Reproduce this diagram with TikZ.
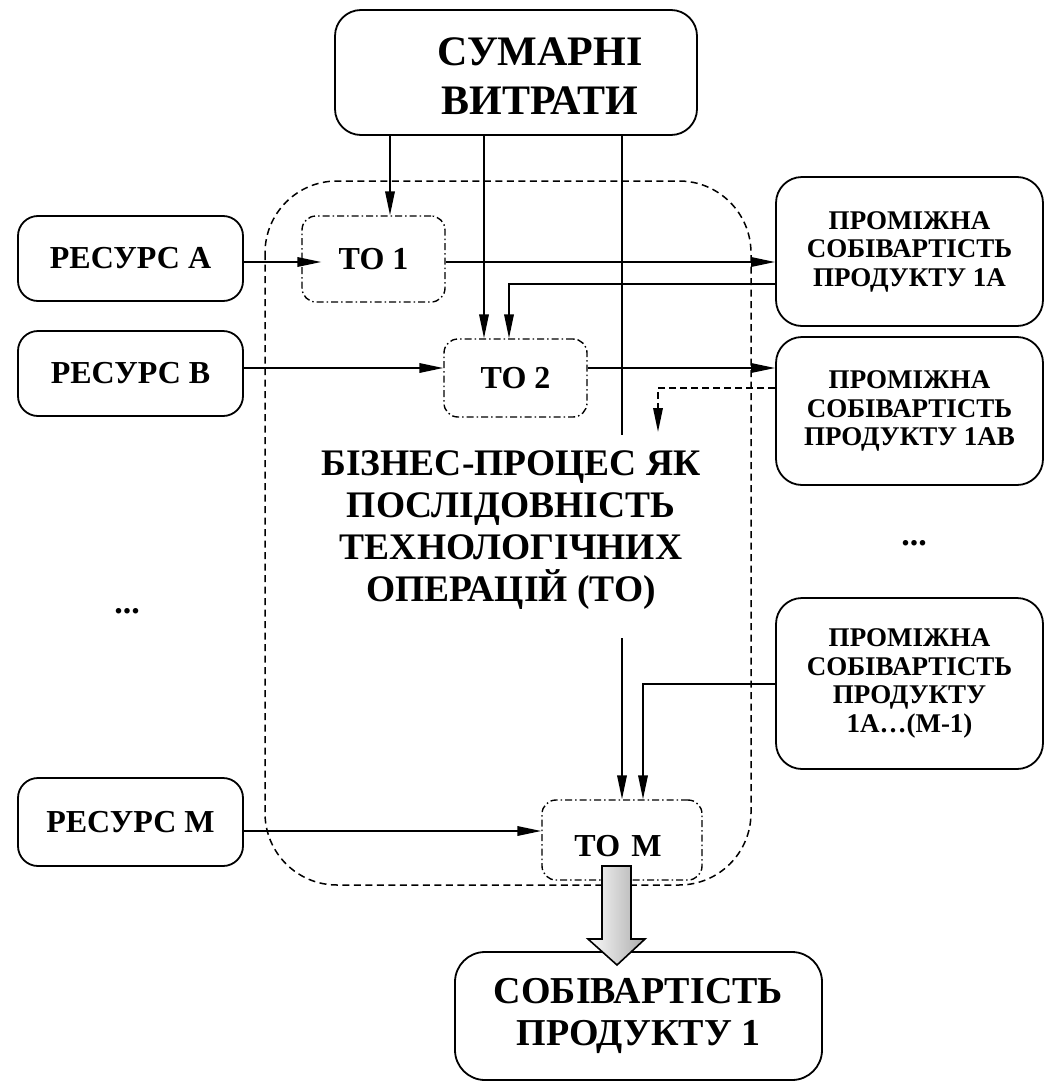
\documentclass[tikz,border=0pt]{standalone}
\usepackage{fontspec}
\setmainfont{Liberation Serif}
\usetikzlibrary{arrows.meta,calc}
\newcommand{\myfs}[2]{\fontsize{#1}{#2}\selectfont\bfseries}

\begin{document}
\begin{tikzpicture}[x=1pt,y=-1pt,
  box/.style={draw,line width=1.8pt,rounded corners=#1,inner sep=0pt,align=center},
  box/.default=22pt,
  opbox/.style={draw,line width=1.4pt,rounded corners=14pt,
    dash pattern=on 7pt off 3pt on 1.5pt off 3pt,inner sep=0pt,align=center,
    font=\myfs{32}{36}},
  resbox/.style={box=20pt,minimum width=225pt,minimum height=85pt,font=\myfs{32}{36}},
  interbox/.style={box=26pt,minimum width=267pt,font=\myfs{27}{28.5}},
  procframe/.style={line width=1.5pt,dash pattern=on 7pt off 4.5pt,rounded corners=72pt},
  link/.style={line width=1.8pt},
  arr/.style={link,-{Triangle[length=24pt,width=9.5pt]}},
  dasharr/.style={arr,dash pattern=on 7pt off 4pt},
  bigarrow/.style={draw,line width=1.6pt,left color=gray!3,right color=gray!65}
]
\useasboundingbox (0,0) rectangle (1045,1084);

% business process frame
\draw[procframe] (265,181) rectangle (751,885);

% nodes
\node[box=26pt,minimum width=362pt,minimum height=125pt] (sum) at (516,72.5) {};
\node[align=center,inner sep=0pt,font=\myfs{42}{49}] (sumtext)
  at ($(sum.center)+(24,4)$) {СУМАРНІ\\ВИТРАТИ};

\node[resbox] (ra) at (130.5,258.5) {РЕСУРС А};
\node[resbox] (rb) at (130.5,373.5) {РЕСУРС В};
\node[resbox,minimum height=88pt] (rm) at (130.5,822) {РЕСУРС М};

\node[opbox,minimum width=143pt,minimum height=86pt] (to1) at (373.5,259) {ТО 1};
\node[opbox,minimum width=143pt,minimum height=78pt] (to2) at (515.5,378) {ТО 2};
\node[opbox,minimum width=160pt,minimum height=80pt] (tom) at (622,840) {};
\node[font=\myfs{32}{36},inner sep=0pt] (tomtext) at ($(tom.center)+(-4,6)$) {ТО\hspace{0.35em}М};

\node[interbox,minimum height=149pt] (p1) at (909.5,251.5)
  {ПРОМІЖНА\\СОБІВАРТІСТЬ\\ПРОДУКТУ 1А};
\node[interbox,minimum height=148pt] (p2) at (909.5,411)
  {ПРОМІЖНА\\СОБІВАРТІСТЬ\\ПРОДУКТУ 1АВ};
\node[interbox,minimum height=171pt] (p3) at (909.5,683.5)
  {ПРОМІЖНА\\СОБІВАРТІСТЬ\\ПРОДУКТУ\\1А\dots(М-1)};

\node[box=30pt,minimum width=367pt,minimum height=128pt,font=\myfs{38}{42}]
  (cost) at (638.5,1016) {СОБІВАРТІСТЬ\\ПРОДУКТУ 1};

\node[align=center,font=\myfs{37.5}{42}] (proc) at (511,530)
  {БІЗНЕС-ПРОЦЕС ЯК\\ПОСЛІДОВНІСТЬ\\ТЕХНОЛОГІЧНИХ\\ОПЕРАЦІЙ (ТО)};

\node[font=\myfs{34}{36},anchor=base,inner sep=0pt] (dotsl) at (127,613) {...};
\node[font=\myfs{34}{36},anchor=base,inner sep=0pt] (dotsr) at (914,545) {...};

% rows and columns of the connectors
\coordinate (ya) at (0,262);
\coordinate (yb) at (0,368);
\coordinate (ym) at (0,831);
\coordinate (yp1) at (0,284);
\coordinate (yp2) at (0,388);
\coordinate (yp3) at (0,684);
\coordinate (xc1) at (390,0);
\coordinate (xc2) at (484,0);
\coordinate (xa) at (509,0);
\coordinate (xm) at (643,0);
\coordinate (e3) at (622,435);
\coordinate (s4) at (622,638);
\coordinate (e11) at (658,432);

% total costs feed the operations
\draw[arr] (sum.south -| xc1) -- (to1.north -| xc1);
\draw[arr] (sum.south -| xc2) -- (to2.north -| xc2);
\draw[link] (sum.south -| e3) -- (e3);
\draw[arr] (s4) -- (tom.north -| s4);

% resources
\draw[arr] (ra.east |- ya) -- ($(to1.west |- ya)+(20,0)$);
\draw[arr] (rb.east |- yb) -- (to2.west |- yb);
\draw[arr] (rm.east |- ym) -- (tom.west |- ym);

% intermediate products
\draw[arr] (to1.east |- ya) -- (p1.west |- ya);
\draw[arr] (to2.east |- yb) -- (p2.west |- yb);
\draw[arr] (p1.west |- yp1) -| (to2.north -| xa);
\draw[dasharr] (p2.west |- yp2) -| (e11);
\draw[arr] (p3.west |- yp3) -| (tom.north -| xm);

% output arrow to the product cost
\draw[bigarrow] (602,866) -- (631,866) -- (631,939) -- (645,939) -- (617,965)
  -- (588,939) -- (602,939) -- cycle;
\end{tikzpicture}
\end{document}
